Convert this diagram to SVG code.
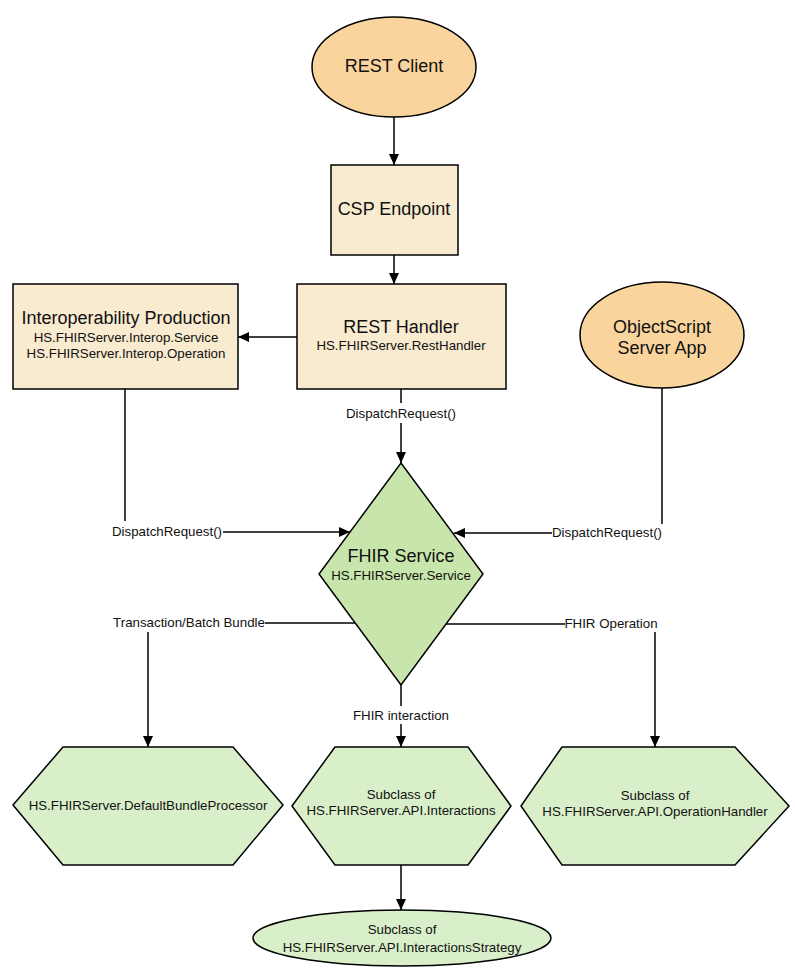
<svg xmlns="http://www.w3.org/2000/svg" width="795" height="980" viewBox="0 0 795 980">
<defs>
<marker id="arr" markerUnits="userSpaceOnUse" markerWidth="12" markerHeight="10" refX="11" refY="5" orient="auto">
<path d="M0,0 L11,5 L0,10 z" fill="#000"/>
</marker>
</defs>
<style>
.shape{stroke:#000;stroke-width:1.5}
.orange{fill:#fad49d}
.beige{fill:#f8ebcf}
.dgreen{fill:#c8e6ab}
.lgreen{fill:#d9efc9}
text{font-family:"Liberation Sans",Arial,sans-serif;fill:#111;text-anchor:middle}
.t18{font-size:18px}
.t13{font-size:13.3px}
.conn{stroke:#000;stroke-width:1.5;fill:none}
.lbl{font-size:13.3px}
</style>
<rect width="795" height="980" fill="#fff"/>

<g id="connectors">
<path class="conn" d="M394,117 V165" marker-end="url(#arr)"/>
<path class="conn" d="M394,255 V284" marker-end="url(#arr)"/>
<path class="conn" d="M297,337 H238" marker-end="url(#arr)"/>
<path class="conn" d="M401,389 V403"/>
<path class="conn" d="M401,423 V463" marker-end="url(#arr)"/>
<text class="lbl" x="401" y="418">DispatchRequest()</text>
<path class="conn" d="M125,389 V521"/>
<path class="conn" d="M223,532 H350" marker-end="url(#arr)"/>
<text class="lbl" x="167" y="536">DispatchRequest()</text>
<path class="conn" d="M662,388 V524"/>
<path class="conn" d="M552,533 H454" marker-end="url(#arr)"/>
<text class="lbl" x="607" y="537">DispatchRequest()</text>
<path class="conn" d="M355,623 H265"/>
<text class="lbl" x="189" y="627">Transaction/Batch Bundle</text>
<path class="conn" d="M148,632 V747" marker-end="url(#arr)"/>
<path class="conn" d="M446,624 H565"/>
<text class="lbl" x="611" y="628">FHIR Operation</text>
<path class="conn" d="M655,632 V747" marker-end="url(#arr)"/>
<path class="conn" d="M401,685 V706"/>
<text class="lbl" x="401" y="720">FHIR interaction</text>
<path class="conn" d="M401,724 V747" marker-end="url(#arr)"/>
<path class="conn" d="M401,865 V910" marker-end="url(#arr)"/>
</g>

<g id="rest-client">
<ellipse class="shape orange" cx="394" cy="67" rx="82" ry="50"/>
<text class="t18" x="394" y="72">REST Client</text>
</g>

<g id="csp-endpoint">
<rect class="shape beige" x="331" y="165" width="127" height="90"/>
<text class="t18" x="394" y="215">CSP Endpoint</text>
</g>

<g id="interop-production">
<rect class="shape beige" x="13" y="284" width="225" height="105"/>
<text class="t18" x="126" y="324">Interoperability Production</text>
<text class="t13" x="126" y="342">HS.FHIRServer.Interop.Service</text>
<text class="t13" x="126" y="358">HS.FHIRServer.Interop.Operation</text>
</g>

<g id="rest-handler">
<rect class="shape beige" x="297" y="284" width="209" height="105"/>
<text class="t18" x="401" y="333">REST Handler</text>
<text class="t13" x="401" y="350">HS.FHIRServer.RestHandler</text>
</g>

<g id="objectscript-app">
<ellipse class="shape orange" cx="662" cy="335" rx="82" ry="53"/>
<text class="t18" x="662" y="333">ObjectScript</text>
<text class="t18" x="662" y="354">Server App</text>
</g>

<g id="fhir-service">
<polygon class="shape dgreen" points="401,463 483,574 401,685 319,574"/>
<text class="t18" x="401" y="562">FHIR Service</text>
<text class="t13" x="401" y="580">HS.FHIRServer.Service</text>
</g>

<g id="bundle-processor">
<polygon class="shape lgreen" points="13,805 63,747 233,747 283,805 233,865 63,865"/>
<text class="t13" x="148" y="810">HS.FHIRServer.DefaultBundleProcessor</text>
</g>

<g id="interactions">
<polygon class="shape lgreen" points="292,806 335,747 468,747 511,806 468,865 335,865"/>
<text class="t13" x="401" y="799">Subclass of</text>
<text class="t13" x="401" y="815">HS.FHIRServer.API.Interactions</text>
</g>

<g id="operation-handler">
<polygon class="shape lgreen" points="521,806 562,747 735,747 789,806 735,865 562,865"/>
<text class="t13" x="655" y="800">Subclass of</text>
<text class="t13" x="655" y="816">HS.FHIRServer.API.OperationHandler</text>
</g>

<g id="interactions-strategy">
<ellipse class="shape lgreen" cx="402" cy="938" rx="149" ry="28"/>
<text class="t13" x="402" y="934">Subclass of</text>
<text class="t13" x="402" y="952">HS.FHIRServer.API.InteractionsStrategy</text>
</g>
</svg>
